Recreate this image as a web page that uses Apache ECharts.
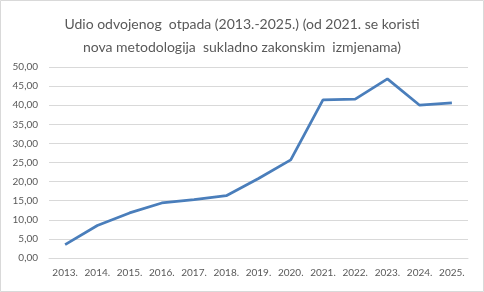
<!DOCTYPE html>
<html><head><meta charset="utf-8">
<script src="https://cdn.jsdelivr.net/npm/echarts@6/dist/echarts.min.js"></script>
<style>html,body{margin:0;padding:0;background:#fff}#c{width:484px;height:292px}</style>
</head><body><div id="c"></div>
<script>
const titleText = 'Udio odvojenog  otpada (2013.-2025.) (od 2021. se koristi\nnova metodologija  sukladno zakonskim  izmjenama)';
const categories = ['2013.','2014.','2015.','2016.','2017.','2018.','2019.','2020.','2021.','2022.','2023.','2024.','2025.'];
const values = [3.5, 8.5, 11.8, 14.4, 15.3, 16.3, 20.8, 25.7, 41.4, 41.6, 46.9, 40.0, 40.6];
const yMin = 0, yMax = 50, yStep = 5;

const chart = echarts.init(document.getElementById('c'), null, {renderer:'canvas'});
const font = 'Lato, "Open Sans", sans-serif';
chart.setOption({
  animation:false,
  backgroundColor:'#fff',
  graphic:[{type:'rect',shape:{x:0.5,y:0.5,width:483,height:291},style:{fill:'none',stroke:'#d9d9d9',lineWidth:1},silent:true}],
  title:{text:titleText,left:'center',top:8,textStyle:{fontFamily:font,fontSize:14,fontWeight:'normal',color:'#595959',lineHeight:23}},
  grid:{left:49,right:16,top:67,bottom:34,containLabel:false},
  xAxis:{type:'category',data:categories,boundaryGap:true,
    axisLine:{show:true,lineStyle:{color:'#d9d9d9'}},axisTick:{show:false},
    axisLabel:{fontFamily:font,fontSize:10,color:'#595959',margin:10,interval:0}},
  yAxis:{type:'value',min:yMin,max:yMax,interval:yStep,
    axisLine:{show:false},axisTick:{show:false},
    splitLine:{lineStyle:{color:'#d9d9d9'}},
    axisLabel:{fontFamily:font,fontSize:10,color:'#595959',margin:11,
      formatter:v=>v.toFixed(2).replace('.',',')}},
  series:[{type:'line',data:values,symbol:'none',lineStyle:{color:'#4A7EBB',width:2.75},itemStyle:{color:'#4A7EBB'}}]
});
</script></body></html>
